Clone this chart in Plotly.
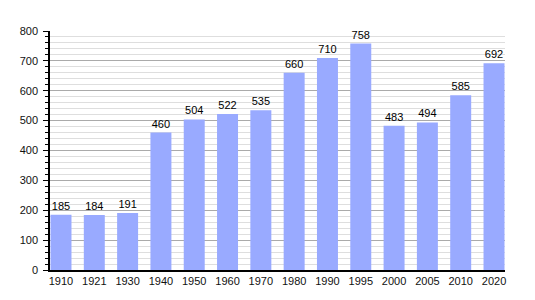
import plotly.graph_objects as go

years = ["1910", "1921", "1930", "1940", "1950", "1960", "1970", "1980", "1990", "1995", "2000", "2005", "2010", "2020"]
population = [185, 184, 191, 460, 504, 522, 535, 660, 710, 758, 483, 494, 585, 692]

fig = go.Figure()
fig.add_trace(go.Bar(
    x=years, y=population,
    marker=dict(color="#99aaff", line=dict(width=0)),
    text=[str(v) for v in population],
    textposition="outside",
    textfont=dict(family="Liberation Sans, Arial, sans-serif", size=11, color="#000"),
    cliponaxis=False,
    width=0.63,
))
fig.update_layout(
    width=535, height=300,
    margin=dict(l=50, r=30, t=31, b=30),
    plot_bgcolor="white", paper_bgcolor="white",
    showlegend=False,
    font=dict(family="Liberation Sans, Arial, sans-serif", size=11, color="#111"),
    xaxis=dict(
        type="category", range=[-0.33, 13.33],
        showline=True, linecolor="#000", linewidth=1.5,
        ticks="", showgrid=False, tickfont=dict(size=11, color="#111"),
    ),
    yaxis=dict(
        range=[0, 800], dtick=100,
        showline=True, linecolor="#000", linewidth=1.5,
        ticks="outside", ticklen=5, tickcolor="#000",
        ticklabelstandoff=3,
        gridcolor="#aaaaaa", gridwidth=1,
        tickfont=dict(size=11, color="#111"),
        zeroline=False,
        minor=dict(dtick=20, ticks="outside", ticklen=3, tickcolor="#000",
                   showgrid=True, gridcolor="#dedede", gridwidth=1),
    ),
)
fig.write_html("out.html")
